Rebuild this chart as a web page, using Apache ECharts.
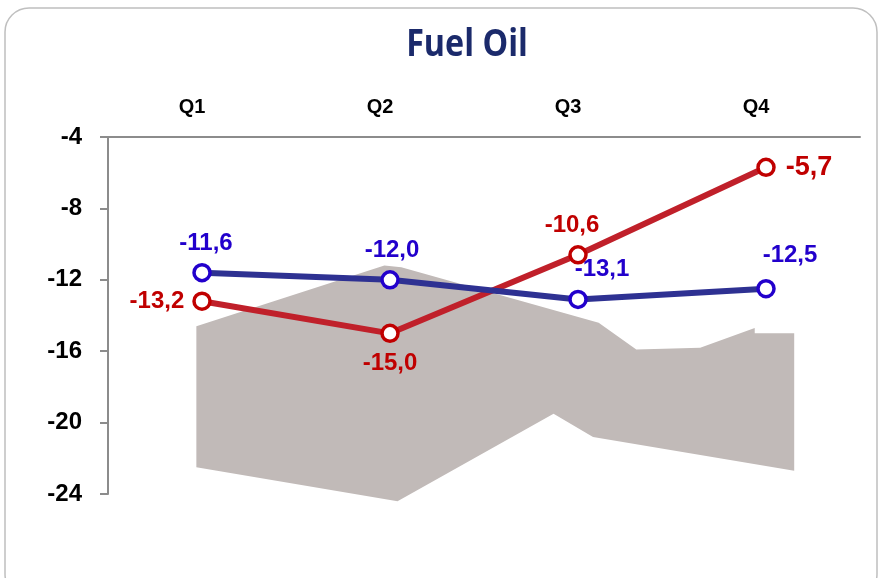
<!DOCTYPE html>
<html>
<head>
<meta charset="utf-8">
<script src="https://cdn.jsdelivr.net/npm/echarts@6/dist/echarts.min.js"></script>
<style>
  html, body { margin: 0; padding: 0; background: #ffffff; }
  #chart { width: 883px; height: 578px; }
</style>
</head>
<body>
<div id="chart"></div>
<script>
// Quarterly categories and tick values
const quarters = ['Q1', 'Q2', 'Q3', 'Q4'];
const yTicks = [-24, -20, -16, -12, -8, -4];

// Two forecast series
const blueValues = [-11.6, -12.0, -13.1, -12.5];
const redValues = [-13.2, -15.0, -10.6, -5.7];

// Range band outline (x in quarter units 0..4, y in axis units)
const bandX = [0.47, 1.47, 1.56, 2.61, 2.81, 3.15, 3.44, 3.44, 3.65, 3.65, 2.58, 2.37, 1.54, 0.47];
const bandY = [-14.6, -11.2, -11.3, -14.4, -15.9, -15.8, -14.7, -15.0, -15.0, -22.7, -20.8, -19.5, -24.4, -22.5];

const fmt = v => v.toFixed(1).replace('.', ',');

const chart = echarts.init(document.getElementById('chart'));

const labelFont = { fontFamily: 'Liberation Sans', fontWeight: 'bold', fontSize: 24 };

// label placement per point
const blueLabelPos = ['top', 'top', 'top', 'top'];
const blueLabelShift = [[4, 0], [2, 0], [24, 0], [24, -4]];
const redLabelPos = ['left', 'bottom', 'top', 'right'];
const redLabelShift = [[0, 0], [0, 0], [-6, 0], [0, 0]];

chart.setOption({
  backgroundColor: '#ffffff',
  animation: false,
  graphic: [{
    type: 'rect',
    shape: { x: 5, y: 8, width: 872, height: 590, r: 24 },
    style: { fill: 'none', stroke: '#BFBFBF', lineWidth: 1.5 },
    silent: true,
    z: -10
  }, {
    // chart title, set in a condensed bold face
    type: 'text',
    x: 467,
    y: 45,
    scaleX: 0.85,
    style: {
      text: 'Fuel Oil',
      x: 0,
      y: 0,
      align: 'center',
      verticalAlign: 'middle',
      fontFamily: 'Open Sans',
      fontWeight: 'bold',
      fontSize: 38,
      fill: '#1B2A6B'
    },
    silent: true
  }],
  grid: { left: 108, right: 23, top: 137, bottom: 84 },
  xAxis: [{
    type: 'category',
    data: quarters,
    position: 'top',
    boundaryGap: true,
    axisLine: { lineStyle: { color: '#8C8C8C', width: 2 } },
    axisTick: { inside: true, length: 8, lineStyle: { color: '#8C8C8C', width: 2 } },
    axisLabel: {
      margin: 20,
      color: '#000000',
      fontFamily: 'Liberation Sans',
      fontWeight: 'bold',
      fontSize: 20,
      padding: [0, 20, 0, 0]
    },
    splitLine: { show: false }
  }, {
    type: 'value',
    min: 0,
    max: 4,
    show: false
  }],
  yAxis: {
    type: 'value',
    min: -24,
    max: -4,
    interval: 4,
    axisLine: { show: true, lineStyle: { color: '#8C8C8C', width: 2 } },
    axisTick: { show: true, length: 8, lineStyle: { color: '#8C8C8C', width: 2 } },
    axisLabel: {
      margin: 26,
      color: '#000000',
      fontFamily: 'Liberation Sans',
      fontWeight: 'bold',
      fontSize: 24,
      formatter: v => yTicks.includes(v) ? String(v) : ''
    },
    splitLine: { show: false }
  },
  series: [
    {
      type: 'custom',
      xAxisIndex: 1,
      data: [[bandX[0], bandY[0]]],
      z: 1,
      silent: true,
      renderItem: function (params, api) {
        if (params.dataIndex !== 0) return;
        const pts = bandX.map((x, i) => api.coord([x, bandY[i]]));
        return {
          type: 'polygon',
          shape: { points: pts },
          style: { fill: '#C1BAB8', stroke: null }
        };
      }
    },
    {
      name: 'red',
      type: 'line',
      z: 3,
      data: redValues.map((v, i) => ({
        value: v,
        label: {
          position: redLabelPos[i],
          offset: redLabelShift[i],
          distance: i === 3 ? 10 : 8,
          fontSize: i === 3 ? 27 : 24
        }
      })),
      symbol: 'circle',
      symbolSize: 16,
      lineStyle: { color: '#C0202A', width: 6 },
      itemStyle: { color: '#ffffff', borderColor: '#C00000', borderWidth: 3.5 },
      label: Object.assign({
        show: true,
        color: '#C00000',
        formatter: p => fmt(p.value)
      }, labelFont)
    },
    {
      name: 'blue',
      type: 'line',
      z: 4,
      data: blueValues.map((v, i) => ({
        value: v,
        label: { position: blueLabelPos[i], offset: blueLabelShift[i], distance: 8 }
      })),
      symbol: 'circle',
      symbolSize: 16,
      lineStyle: { color: '#2E3192', width: 6 },
      itemStyle: { color: '#ffffff', borderColor: '#2200CC', borderWidth: 3.5 },
      label: Object.assign({
        show: true,
        color: '#2200CC',
        formatter: p => fmt(p.value)
      }, labelFont)
    }
  ]
});
</script>
</body>
</html>
